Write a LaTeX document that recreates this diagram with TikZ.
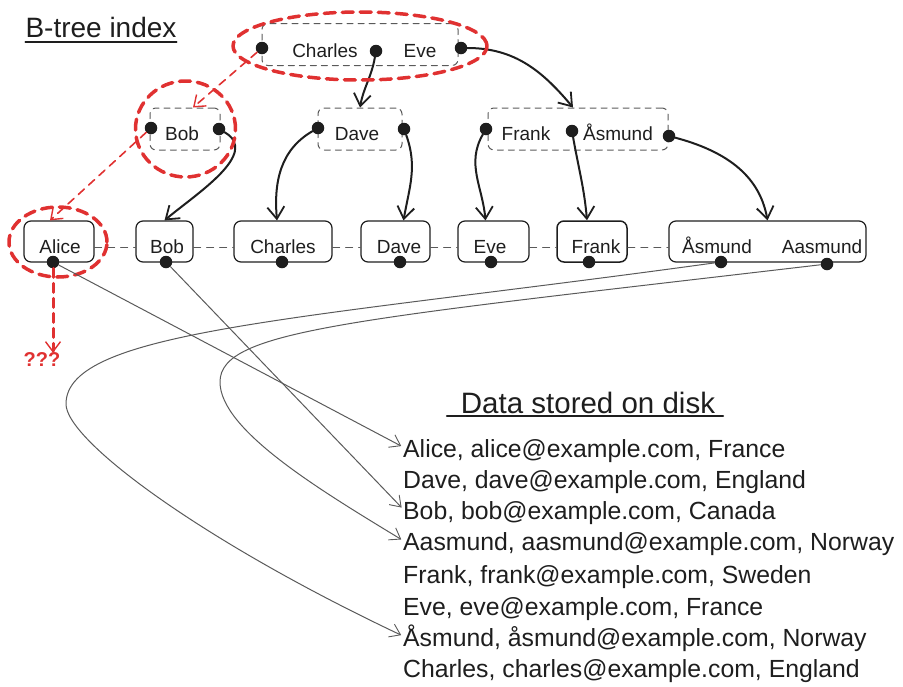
\documentclass[tikz,border=0pt]{standalone}
\usepackage{fontspec}
\setmainfont{Liberation Sans}
\usetikzlibrary{arrows.meta,shapes.geometric}
\definecolor{ink}{HTML}{1E1E1E}
\definecolor{mark}{HTML}{E03131}
\definecolor{lead}{HTML}{5A5A5A}

\tikzset{
  inner/.style={draw=lead, line width=1pt, dash pattern=on 6pt off 5pt, rounded corners=6pt,
                minimum height=42pt, inner sep=0pt},
  leaf/.style={draw=ink, line width=1.2pt, rounded corners=7pt, minimum height=41pt, inner sep=0pt},
  key/.style={font=\fontsize{19}{22}\selectfont, text=ink, inner sep=0pt, text height=14pt, text depth=0pt},
  dot/.style={circle, fill=ink, inner sep=0pt, minimum size=12.5pt},
  ring/.style={ellipse, draw=mark, line width=3.5pt, dash pattern=on 11pt off 7pt, inner sep=0pt},
  link/.style={draw=ink, line width=2pt, -{Straight Barb[length=12pt,width=17pt,line width=1.8pt]}},
  hint/.style={draw=mark, line width=1.6pt, dash pattern=on 8pt off 6pt,
               -{Straight Barb[length=10pt,width=15pt,line width=1.4pt]}},
  chain/.style={draw=lead, line width=1pt, dash pattern=on 7pt off 6pt},
  fetch/.style={draw=lead, line width=1pt, shorten >=2pt,
                -{Straight Barb[length=10pt,width=14pt,line width=0.9pt]}},
  row/.style={anchor=west, inner sep=0pt, font=\fontsize{24.8}{28}\selectfont, text=ink,
              text height=20pt, text depth=0pt},
  heading/.style={inner sep=0pt, text=ink, text height=20pt, text depth=0pt},
  rule/.style={draw=ink, line width=1.6pt},
}

\begin{document}
\begin{tikzpicture}[x=1pt, y=-1pt, line cap=round, line join=round]
  \useasboundingbox (0,0) rectangle (903,686);

  % titles
  \node[heading, font=\fontsize{28}{32}\selectfont] (tIndex) at (101,27) {B-tree index};
  \draw[rule] ([yshift=-5pt]tIndex.south west) -- ([yshift=-5pt]tIndex.south east);
  \node[heading, font=\fontsize{29.5}{34}\selectfont] (tDisk) at (588,403) {Data stored on disk};
  \draw[rule] ([xshift=-14pt,yshift=-3pt]tDisk.south west) -- ([xshift=8pt,yshift=-3pt]tDisk.south east);

  % inner pages
  \node[inner, minimum width=196pt] (bRoot) at (360,44.5) {};
  \node[key] (kRootC) at (325,50) {Charles};
  \node[key] (kRootE) at (420,50) {Eve};
  \node[dot] (pRootL) at (262,48) {};
  \node[dot] (pRootM) at (376,51) {};
  \node[dot] (pRootR) at (461,48) {};

  \node[inner, minimum width=70pt] (bBob) at (185,129) {};
  \node[key] (kBob) at (182,133) {Bob};
  \node[dot] (pBobL) at (151,128) {};
  \node[dot] (pBobR) at (219,129) {};

  \node[inner, minimum width=84pt] (bDave) at (360,129) {};
  \node[key] (kDave) at (357,133) {Dave};
  \node[dot] (pDaveL) at (318,128) {};
  \node[dot] (pDaveR) at (404,129) {};

  \node[inner, minimum width=180pt] (bFrank) at (578,129) {};
  \node[key] (kFrank) at (526,133) {Frank};
  \node[key] (kAsm) at (618,133) {Åsmund};
  \node[dot] (pFrankL) at (486,129) {};
  \node[dot] (pFrankM) at (572,131) {};
  \node[dot] (pFrankR) at (669,136) {};

  % leaf pages
  \node[leaf, minimum width=70pt] (lAlice) at (59,241.5) {};
  \node[leaf, minimum width=57pt] (lBob) at (164.5,241.5) {};
  \node[leaf, minimum width=98pt] (lCharles) at (283,241.5) {};
  \node[leaf, minimum width=69pt] (lDave) at (395.5,241.5) {};
  \node[leaf, minimum width=71pt] (lEve) at (493.5,241.5) {};
  \node[leaf, minimum width=70pt, line width=1.5pt] (lFrank) at (592,241.5) {};
  \node[leaf, minimum width=197pt] (lAsmund) at (767.5,241.5) {};
  \node[key] (kAlice) at (60,246) {Alice};
  \node[key] (kBobL) at (167,246) {Bob};
  \node[key] (kCharles) at (283,246) {Charles};
  \node[key] (kDaveL) at (399,246) {Dave};
  \node[key] (kEve) at (490,246) {Eve};
  \node[key] (kFrankL) at (596,246) {Frank};
  \node[key] (kAsmL) at (717,246) {Åsmund};
  \node[key] (kAasm) at (822,246) {Aasmund};
  \node[dot] (qAlice) at (53,262) {};
  \node[dot] (qBob) at (166,262) {};
  \node[dot] (qCharles) at (282,262) {};
  \node[dot] (qDave) at (400,262) {};
  \node[dot] (qEve) at (491,262) {};
  \node[dot] (qFrank) at (589,262) {};
  \node[dot] (qAsmund) at (721,262) {};
  \node[dot] (qAasmund) at (827,264) {};

  \draw[chain] ([yshift=-6pt]lAlice.east) -- ([yshift=-6pt]lBob.west);
  \draw[chain] ([yshift=-6pt]lBob.east) -- ([yshift=-6pt]lCharles.west);
  \draw[chain] ([yshift=-6pt]lCharles.east) -- ([yshift=-6pt]lDave.west);
  \draw[chain] ([yshift=-6pt]lDave.east) -- ([yshift=-6pt]lEve.west);
  \draw[chain] ([yshift=-6pt]lEve.east) -- ([yshift=-6pt]lFrank.west);
  \draw[chain] ([yshift=-6pt]lFrank.east) -- ([yshift=-6pt]lAsmund.west);

  % tree pointers
  \draw[link] (pRootM) to[out=-100,in=80] (bDave.north);
  \draw[link] (pRootR) to[out=0,in=130] ([xshift=-5pt]bFrank.north);
  \draw[link] (pBobR) to[out=-30,in=40] (lBob.north);
  \draw[link] (pDaveL) to[out=210,in=95] ([xshift=-6pt]lCharles.north);
  \draw[link] (pDaveR) to[out=-70,in=80] ([xshift=8pt]lDave.north);
  \draw[link] (pFrankL) to[out=240,in=95] ([xshift=-8pt]lEve.north);
  \draw[link] (pFrankM) to[out=-80,in=95] ([xshift=-5pt]lFrank.north);
  \draw[link] (pFrankR) to[out=-15,in=100] (lAsmund.north);

  % lookup path for Alice
  \node[ring, minimum width=254pt, minimum height=68pt] (oRoot) at (360,46) {};
  \node[ring, minimum width=100pt, minimum height=96pt] (oBob) at (185.5,129) {};
  \node[ring, minimum width=98pt, minimum height=70pt] (oAlice) at (58,242) {};
  \draw[hint] (pRootL) -- ([xshift=8pt]bBob.north);
  \draw[hint] (pBobL) -- ([xshift=-9pt]lAlice.north);
  \node[inner sep=0pt, text=mark, font=\fontsize{20}{24}\selectfont\bfseries] (qq) at (42,360) {???};
  \draw[hint, line width=3pt, dash pattern=on 9pt off 6pt] (qAlice) -- (qAlice |- qq.north);

  % rows on disk
  \node[row] (rAlice) at (403,447) {Alice, alice@example.com, France};
  \node[row] (rDave) at (403,478) {Dave, dave@example.com, England};
  \node[row] (rBob) at (403,509) {Bob, bob@example.com, Canada};
  \node[row] (rAasmund) at (403,540.5) {Aasmund, aasmund@example.com, Norway};
  \node[row] (rFrank) at (403,573) {Frank, frank@example.com, Sweden};
  \node[row] (rEve) at (403,605) {Eve, eve@example.com, France};
  \node[row] (rAsmund) at (403,636) {Åsmund, åsmund@example.com, Norway};
  \node[row] (rCharles) at (403,667) {Charles, charles@example.com, England};

  \coordinate (bendA) at (66,404);
  \coordinate (bendB) at (220,382);
  \draw[fetch] (qAlice) -- (rAlice.west);
  \draw[fetch] (qBob) -- (rBob.west);
  \draw[fetch] (qAsmund) .. controls (300,320) and (66,330) .. (bendA)
                         .. controls (66,440) and (200,540) .. (rAsmund.west);
  \draw[fetch] (qAasmund) .. controls (350,320) and (220,330) .. (bendB)
                          .. controls (220,430) and (320,490) .. (rAasmund.west);
\end{tikzpicture}
\end{document}
